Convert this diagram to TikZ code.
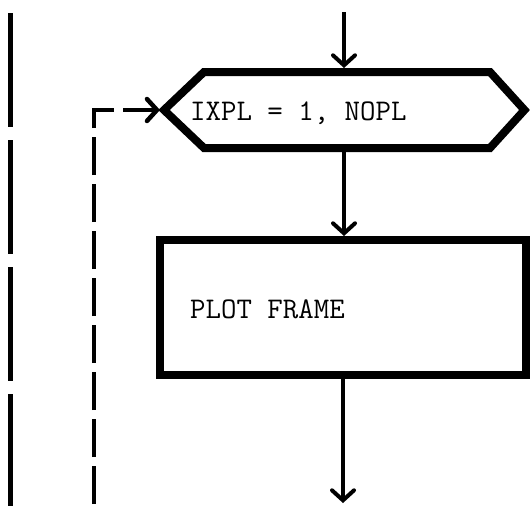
\documentclass[tikz,border=0pt]{standalone}
\usetikzlibrary{arrows.meta}
\begin{document}
\begin{tikzpicture}[x=1pt,y=-1pt,
  flow/.style={line width=4pt, -{Straight Barb[length=10pt,width=22pt,line cap=round]}},
  boxline/.style={line width=8pt, line join=miter},
  lbl/.style={font=\ttfamily\fontsize{30}{30}\selectfont, anchor=base west, inner sep=0pt},
  rail/.style={line width=5pt, dash pattern=on 114pt off 13pt},
  loopline/.style={flow, line width=4.5pt, dash pattern=on 38pt off 9pt},
]
\useasboundingbox (0,0) rectangle (530,506);
% left rail
\coordinate (railtop) at (10,13);
\coordinate (railbot) at (10,506);
\draw[rail] (railtop) -- (railbot);
% hexagon (loop box)
\coordinate (hexL) at (164,110);
\coordinate (hexTL) at (204,72);
\coordinate (hexTR) at (490,72);
\coordinate (hexR) at (524.5,110);
\coordinate (hexBR) at (490,148);
\coordinate (hexBL) at (204,148);
\coordinate (hexT) at (344,68);
\coordinate (hexB) at (344,152);
\coordinate (hexIn) at (160,110);
\draw[boxline] (hexL) -- (hexTL) -- (hexTR) -- (hexR) -- (hexBR) -- (hexBL) -- cycle;
\node[lbl] (loop) at (190,120) {IXPL = 1, NOPL};
% process box
\node[draw, boxline, minimum width=366pt, minimum height=135pt, inner sep=0pt] (frame) at (343,307.5) {};
\node[lbl] (plot) at (190,318) {PLOT FRAME};
% connectors
\coordinate (start) at (344,12);
\coordinate (out) at (343,503);
\coordinate (dl) at (94,504);
\coordinate (corner) at (94,110);
\draw[flow] (start) -- (hexT);
\draw[flow] (hexB) -- (frame.north -| hexB);
\draw[flow] (frame.south -| out) -- (out);
\draw[loopline] (dl) -- (corner) -- (hexIn);
\end{tikzpicture}
\end{document}
